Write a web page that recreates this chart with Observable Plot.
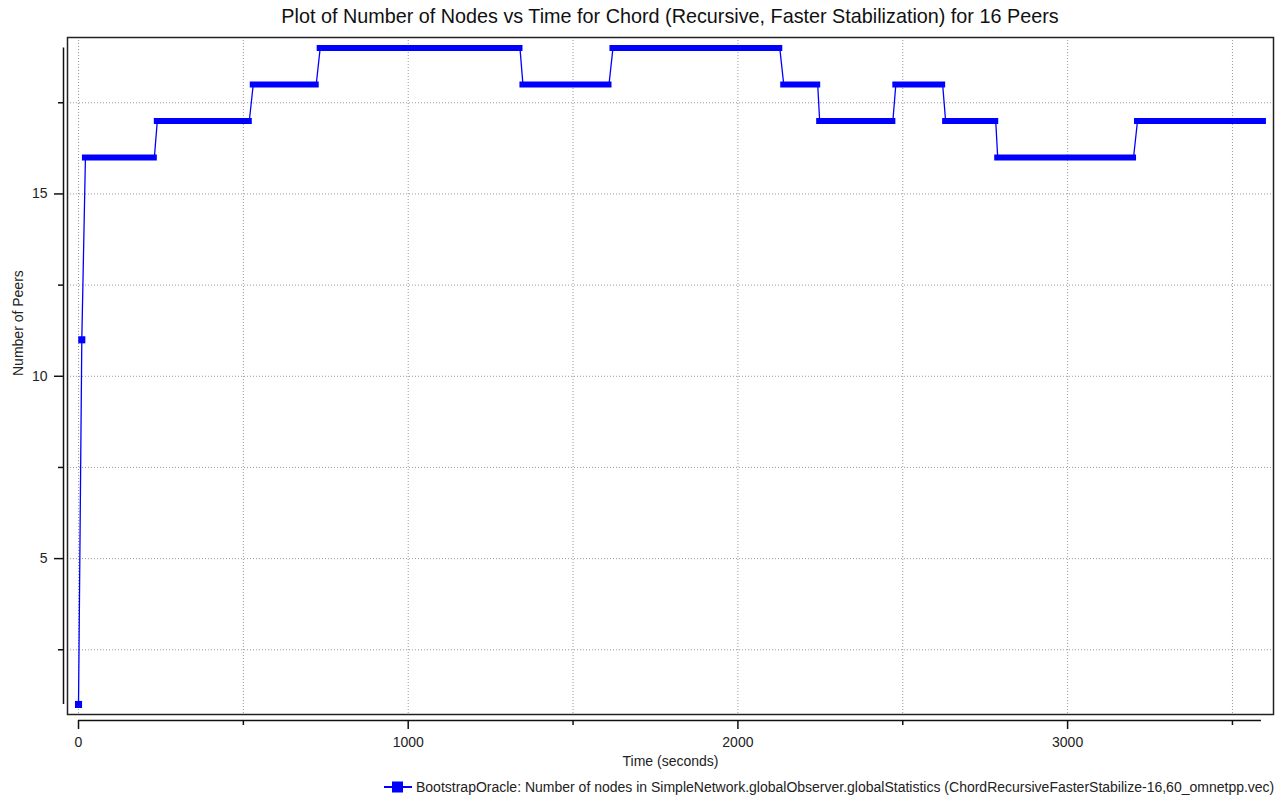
<!DOCTYPE html>
<html>
<head>
<meta charset="utf-8">
<script src="https://cdn.jsdelivr.net/npm/d3@7"></script>
<script src="https://cdn.jsdelivr.net/npm/@observablehq/plot@0.6"></script>
<style>
  html, body { margin: 0; padding: 0; background: #fff; }
  body { width: 1279px; height: 798px; overflow: hidden; font-family: "Liberation Sans", Arial, sans-serif; }
  #title { height: 30px; line-height: 32px; padding-left: 67px; width: 1206px; text-align: center; font-size: 19.8px; color: #111; white-space: nowrap; }
  #legend { position: absolute; top: 779px; left: 384px; height: 16px; display: flex; align-items: center; font-size: 14px; color: #222; white-space: nowrap; }
  #legend svg { margin-right: 4px; }
</style>
</head>
<body>
<div id="title">Plot of Number of Nodes vs Time for Chord (Recursive, Faster Stabilization) for 16 Peers</div>
<div id="chart"></div>
<div id="legend"><svg width="28" height="16"><line x1="0" y1="8" x2="28" y2="8" stroke="#0000ff" stroke-width="2"/><rect x="8" y="2.5" width="11" height="11" fill="#0000ff"/></svg><span>BootstrapOracle: Number of nodes in SimpleNetwork.globalObserver.globalStatistics (ChordRecursiveFasterStabilize-16,60_omnetpp.vec)</span></div>
<script>
// Isolated samples during the initial join phase (time in s, number of peers)
const joinTimes = [0, 10];
const joinPeers = [1, 11];

// Stable periods: start time, end time and number of peers
const plateauStart = [21, 239, 530, 733, 1348, 1621, 2139, 2248, 2479, 2630, 2788, 3212];
const plateauEnd   = [230, 518, 721, 1339, 1609, 2127, 2242, 2470, 2621, 2782, 3200, 3594];
const plateauPeers = [16, 17, 18, 19, 18, 19, 18, 17, 18, 17, 16, 17];

// Axis ticks
const xMajorTicks = [0, 1000, 2000, 3000];
const xMinorTicks = [500, 1500, 2500, 3500];
const yMajorTicks = [5, 10, 15];
const yMinorTicks = [2.5, 7.5, 12.5, 17.5];

const xDomain = [-33.4, 3624.5];
const yDomain = [0.725, 19.29];
const xAxisEnd = 3588;
const blue = "#0000ff";

const joins = joinTimes.map((t, i) => ({t, v: joinPeers[i]}));
const plateaus = plateauStart.map((t0, i) => ({t0, t1: plateauEnd[i], v: plateauPeers[i]}));
const trace = [...joins];
for (const p of plateaus) { trace.push({t: p.t0, v: p.v}); trace.push({t: p.t1, v: p.v}); }

const grid = {stroke: "#9a9a9a", strokeOpacity: 1, strokeDasharray: "1,2"};

const chart = Plot.plot({
  width: 1279,
  height: 750,
  marginLeft: 67,
  marginRight: 6,
  marginTop: 7,
  marginBottom: 66,
  style: {fontFamily: "'Liberation Sans', Arial, sans-serif", fontSize: "14px", color: "#222", overflow: "visible"},
  x: {domain: xDomain},
  y: {domain: yDomain},
  marks: [
    Plot.gridX([0, 500, 1000, 1500, 2000, 2500, 3000, 3500], grid),
    Plot.gridY([2.5, 5, 7.5, 10, 12.5, 15, 17.5], grid),
    // y axis, drawn slightly outside the frame
    Plot.ruleX([xDomain[0]], {y1: 1, y2: 19, dx: -4, stroke: "#111", strokeWidth: 1.5}),
    Plot.axisY({ticks: yMajorTicks, tickSize: 9, tickPadding: 7, dx: -4, label: null, stroke: "#111", strokeWidth: 1.5, tickFormat: d => String(d)}),
    Plot.axisY({ticks: yMinorTicks, tickSize: 5, dx: -4, label: null, stroke: "#111", strokeWidth: 1.5, tickFormat: () => ""}),
    // x axis, drawn slightly below the frame
    Plot.ruleY([yDomain[0]], {x1: 0, x2: xAxisEnd, dy: 6, stroke: "#111", strokeWidth: 1.5}),
    Plot.axisX({ticks: xMajorTicks, tickSize: 9, tickPadding: 8, dy: 6, label: null, stroke: "#111", strokeWidth: 1.5, tickFormat: d => String(d)}),
    Plot.axisX({ticks: xMinorTicks, tickSize: 5, dy: 6, label: null, stroke: "#111", strokeWidth: 1.5, tickFormat: () => ""}),
    Plot.frame({stroke: "#222", strokeWidth: 1.5}),
    // series
    Plot.line(trace, {x: "t", y: "v", stroke: blue, strokeWidth: 1.3}),
    Plot.ruleY(plateaus, {y: "v", x1: "t0", x2: "t1", stroke: blue, strokeWidth: 6, strokeLinecap: "square"}),
    Plot.dot(joins, {x: "t", y: "v", symbol: "square", r: 4, fill: blue, stroke: null}),
    // axis titles
    Plot.text(["Time (seconds)"], {frameAnchor: "bottom", dy: 51, fontSize: 14, fill: "#222"}),
    Plot.text(["Number of Peers"], {frameAnchor: "left", dx: -49, rotate: -90, fontSize: 14, fill: "#222"})
  ]
});
document.getElementById("chart").appendChild(chart);
</script>
</body>
</html>
